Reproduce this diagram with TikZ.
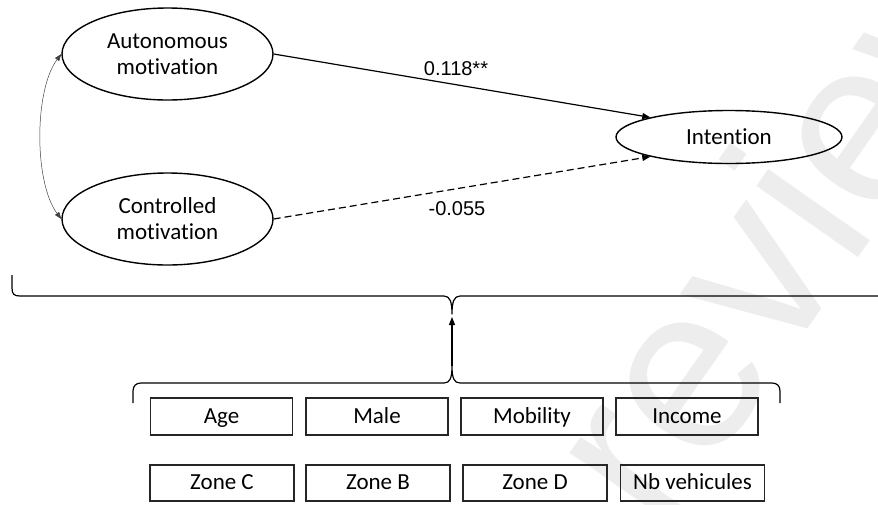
\documentclass[tikz,border=0pt]{standalone}
\usepackage{fontspec}
\setmainfont{Carlito}[Ligatures=NoCommon]
\newfontfamily\coeffont{Liberation Sans}
\newfontfamily\markfont{Liberation Sans}
\usetikzlibrary{shapes.geometric,arrows.meta}

\begin{document}
\begin{tikzpicture}[x=1pt,y=-1pt,
  latent/.style={ellipse,draw,line width=1.4pt,inner sep=0pt,align=center,
    font=\fontsize{23}{26}\selectfont},
  covbox/.style={rectangle,draw=black!85,line width=1.4pt,inner sep=0pt,
    text height=17pt,text depth=4pt,font=\fontsize{23}{27}\selectfont},
  effect/.style={line width=1.2pt,-{Triangle[length=8pt,width=6pt]}},
  dashline/.style={dash pattern=on 7pt off 4pt},
  coef/.style={inner sep=0pt,font=\coeffont\fontsize{20}{24}\selectfont},
  bracepath/.style={line width=1.2pt,line join=round},
  covarrow/.style={line width=0.5pt,draw=black!75,
    {Triangle[length=7pt,width=5pt]}-{Triangle[length=7pt,width=5pt]}}
]
\useasboundingbox (0,0) rectangle (878,504);
\clip (0,0) rectangle (878,504);

% faint watermark behind everything
\node[rotate=55,anchor=base west,inner sep=0pt,text=black!7,
  font=\markfont\fontsize{235}{235}\selectfont] (wm) at (662,538) {review};

% latent variables
\node[latent,minimum width=211pt,minimum height=92pt] (auto) at (167.5,54) {Autonomous\\motivation};
\node[latent,minimum width=211pt,minimum height=92pt] (ctrl) at (167.5,219) {Controlled\\motivation};
\node[latent,minimum width=226pt,minimum height=53pt] (int) at (729,137) {Intention};

% structural paths
\draw[effect] (auto.east) -- (int.166);
\draw[effect,dashline] (ctrl.east) -- (int.194);
\node[coef] (b1) at (456,69) {0.118**};
\node[coef] (b2) at (457,209) {-0.055};

% covariance between the two motivations
\draw[covarrow] (auto.west) .. controls (34,90) and (34,183) .. (ctrl.west);

% control variables
\node[covbox,minimum width=142pt,minimum height=37pt] (age)  at (221.5,416.5) {Age};
\node[covbox,minimum width=142pt,minimum height=37pt] (male) at (377,416.5) {Male};
\node[covbox,minimum width=142pt,minimum height=37pt] (mob)  at (532,416.5) {Mobility};
\node[covbox,minimum width=142pt,minimum height=37pt] (inc)  at (687,416.5) {Income};
\node[covbox,minimum width=144pt,minimum height=36pt] (zc)   at (222,483) {Zone C};
\node[covbox,minimum width=144pt,minimum height=36pt] (zb)   at (378,483) {Zone B};
\node[covbox,minimum width=144pt,minimum height=36pt] (zd)   at (535,483) {Zone D};
\node[covbox,minimum width=144pt,minimum height=36pt] (nb)   at (692.5,483) {Nb vehicules};

% braces
\coordinate (uptip) at (452,317);
\coordinate (lowtip) at (452,366);
\draw[bracepath] (12,275) -- (12,288) .. controls (12,294) and (14,296) .. (20,296)
  -- (444,296) .. controls (450,296) and (452,302) .. (452,314)
  .. controls (452,302) and (454,296) .. (460,296)
  -- (877,296) .. controls (883,296) and (885,294) .. (885,288) -- (885,275);
\draw[bracepath] (133,403) -- (133,391) .. controls (133,386) and (136,383) .. (141,383)
  -- (444,383) .. controls (450,383) and (452,378) .. (lowtip)
  .. controls (452,378) and (454,383) .. (460,383)
  -- (772,383) .. controls (777,383) and (780,386) .. (780,391) -- (780,403);

% controls feed into the model
\draw[effect] (lowtip) -- (uptip);
\end{tikzpicture}
\end{document}
